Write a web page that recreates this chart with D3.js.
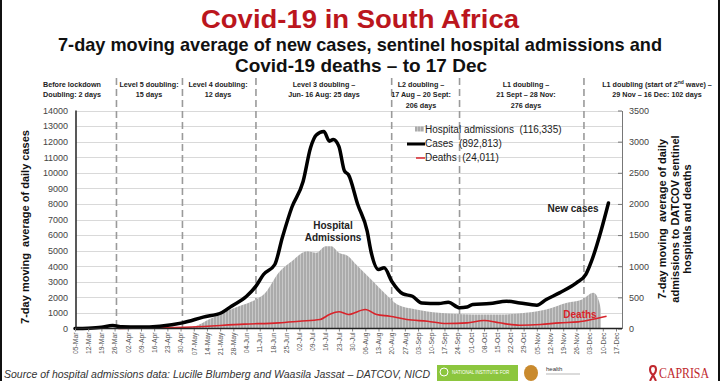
<!DOCTYPE html>
<html>
<head>
<meta charset="utf-8">
<script src="https://cdn.jsdelivr.net/npm/d3@7"></script>
<style>
  body { margin: 0; background: #fff; }
  svg { display: block; font-family: "Liberation Sans", Arial, sans-serif; }
</style>
</head>
<body>
<svg id="chart" width="720" height="381"></svg>
<script>
// weekly axis labels
var tickLabels = ["05-Mar","12-Mar","19-Mar","26-Mar","02-Apr","09-Apr","16-Apr","23-Apr","30-Apr",
  "07-May","14-May","21-May","28-May","04-Jun","11-Jun","18-Jun","25-Jun","02-Jul","09-Jul","16-Jul",
  "23-Jul","30-Jul","06-Aug","13-Aug","20-Aug","27-Aug","03-Sep","10-Sep","17-Sep","24-Sep","01-Oct",
  "08-Oct","15-Oct","22-Oct","29-Oct","05-Nov","12-Nov","19-Nov","26-Nov","03-Dec","10-Dec","17-Dec"];
var leftTicks = d3.range(0, 14001, 1000);
var rightTicks = [0, 500, 1000, 1500, 2000, 2500, 3000, 3500];

// 7-day average of new cases (left axis)
var caseDates = ["05-Mar","12-Mar","19-Mar","25-Mar","30-Mar","08-Apr","19-Apr","01-May","12-May","22-May",
  "27-May","04-Jun","09-Jun","13-Jun","19-Jun","23-Jun","28-Jun","04-Jul","08-Jul","11-Jul","15-Jul",
  "18-Jul","20-Jul","23-Jul","26-Jul","28-Jul","02-Aug","07-Aug","09-Aug","13-Aug","16-Aug","20-Aug",
  "26-Aug","31-Aug","05-Sep","14-Sep","19-Sep","25-Sep","29-Sep","02-Oct","11-Oct","20-Oct","27-Oct",
  "05-Nov","10-Nov","17-Nov","26-Nov","01-Dec","04-Dec","09-Dec","13-Dec"];
var caseValues = [0, 20, 80, 190, 110, 90, 150, 360, 730, 1030,
  1430, 2070, 2720, 3470, 4110, 5840, 7770, 9440, 11620, 12420, 12650,
  12030, 12140, 11700, 10100, 9890, 7960, 6250, 4960, 3790, 3900, 3040,
  2220, 2070, 1640, 1600, 1690, 1330, 1380, 1540, 1600, 1750, 1640,
  1500, 1860, 2290, 2930, 3470, 4320, 6250, 8060];

// hospital admissions (right axis)
var admDates = ["05-Apr","20-Apr","06-May","15-May","24-May","31-May","07-Jun","14-Jun","21-Jun","28-Jun",
  "06-Jul","11-Jul","16-Jul","19-Jul","23-Jul","28-Jul","01-Aug","09-Aug","17-Aug","23-Aug","02-Sep",
  "14-Sep","02-Oct","16-Oct","30-Oct","10-Nov","21-Nov","29-Nov","05-Dec","08-Dec","09-Dec"];
var admValues = [5, 10, 25, 144, 278, 358, 438, 573, 894, 1080,
  1240, 1215, 1320, 1320, 1215, 1160, 1030, 790, 546, 385, 305,
  252, 225, 225, 252, 305, 412, 465, 573, 438, 300];

// deaths (right axis)
var deathDates = ["28-Mar","15-Apr","06-May","03-Jun","21-Jun","02-Jul","13-Jul","18-Jul","23-Jul","28-Jul",
  "06-Aug","12-Aug","19-Aug","28-Aug","08-Sep","18-Sep","29-Sep","08-Oct","16-Oct","27-Oct","07-Nov",
  "17-Nov","27-Nov","04-Dec","12-Dec"];
var deathValues = [0, 8, 25, 70, 91, 117, 144, 225, 270, 225,
  305, 225, 198, 144, 117, 80, 91, 128, 91, 53, 64,
  91, 107, 144, 198];

// phase boundaries (dashed lines)
var phaseDates = ["27-Mar","01-May","09-Jun","20-Aug","25-Sep","30-Nov"];

var parse = d3.timeParse("%d-%b-%Y");
var toDate = s => parse(s + "-2020");

const svg = d3.select("#chart");
const x0 = 75, x1 = 616, plotLeft = 76, plotRight = 622, plotTop = 110.5, plotBottom = 328.5;

const x = d3.scaleTime().domain([toDate("05-Mar"), toDate("17-Dec")]).range([x0, x1]);
const yL = d3.scaleLinear().domain([0, 14000]).range([plotBottom, plotTop]);
const yR = d3.scaleLinear().domain([0, 3500]).range([plotBottom, plotTop]);

// hatch pattern for the admission bars
const defs = svg.append("defs");
const pat = defs.append("pattern").attr("id", "hatch").attr("patternUnits", "userSpaceOnUse")
  .attr("width", 3).attr("height", 10);
pat.append("rect").attr("width", 3).attr("height", 10).attr("fill", "#ababab");
pat.append("rect").attr("width", 0.8).attr("height", 10).attr("fill", "#cfcfcf");

// frame
svg.append("line").attr("x1", 1).attr("x2", 1).attr("y1", 0).attr("y2", 381).attr("stroke", "#111").attr("stroke-width", 2);
svg.append("line").attr("x1", 719).attr("x2", 719).attr("y1", 0).attr("y2", 381).attr("stroke", "#111").attr("stroke-width", 2);

// titles
svg.append("text").attr("x", 360).attr("y", 28).attr("text-anchor", "middle")
  .attr("font-size", 25).attr("font-weight", "bold").attr("fill", "#bb161d")
  .attr("textLength", 318).attr("lengthAdjust", "spacingAndGlyphs")
  .text("Covid-19 in South Africa");
svg.append("text").attr("x", 360).attr("y", 51).attr("text-anchor", "middle")
  .attr("font-size", 18.5).attr("font-weight", "bold").attr("fill", "#111")
  .attr("textLength", 604).attr("lengthAdjust", "spacingAndGlyphs")
  .text("7-day moving average of new cases, sentinel hospital admissions and");
svg.append("text").attr("x", 361).attr("y", 72).attr("text-anchor", "middle")
  .attr("font-size", 18.5).attr("font-weight", "bold").attr("fill", "#111")
  .attr("textLength", 252).attr("lengthAdjust", "spacingAndGlyphs")
  .text("Covid-19 deaths \u2013 to 17 Dec");

// grid
svg.append("g").selectAll("line").data(leftTicks.slice(1)).enter().append("line")
  .attr("x1", plotLeft).attr("x2", plotRight)
  .attr("y1", d => Math.round(yL(d)) + 0.5).attr("y2", d => Math.round(yL(d)) + 0.5)
  .attr("stroke", "#d9d9d9").attr("stroke-width", 1);

// phase dashed lines
svg.append("g").selectAll("line").data(phaseDates).enter().append("line")
  .attr("x1", d => x(toDate(d))).attr("x2", d => x(toDate(d)))
  .attr("y1", 78).attr("y2", plotBottom)
  .attr("stroke", "#9a9a9a").attr("stroke-width", 1.6).attr("stroke-dasharray", "7,4");

// phase labels
var phaseText = [
  {cx: 72, lines: ["Before lockdown", "Doubling: 2 days"]},
  {cx: 149, lines: ["Level 5 doubling:", "15 days"]},
  {cx: 218, lines: ["Level 4 doubling:", "12 days"]},
  {cx: 324, lines: ["Level 3 doubling \u2013", "Jun- 16 Aug: 25 days"]},
  {cx: 421, lines: ["L2 doubling \u2013", "17 Aug \u2013 20 Sept:", "206 days"]},
  {cx: 526, lines: ["L1 doubling \u2013", "21 Sept \u2013 28 Nov:", "276 days"]},
  {cx: 657, lines: ["L1 doubling (start of 2nd wave) \u2013", "29 Nov \u2013 16 Dec: 102 days"]}
];
const pg = svg.append("g").attr("font-size", 7.2).attr("font-weight", "bold").attr("fill", "#222")
  .attr("text-anchor", "middle");
phaseText.forEach(p => {
  p.lines.forEach((l, i) => {
    const t = pg.append("text").attr("x", p.cx).attr("y", 86.5 + i * 10.5);
    if (l.indexOf("2nd") >= 0) {
      const parts = l.split("2nd");
      t.append("tspan").text(parts[0] + "2");
      t.append("tspan").attr("font-size", 5).attr("dy", -2.5).text("nd");
      t.append("tspan").attr("dy", 2.5).text(parts[1]);
    } else {
      t.text(l);
    }
  });
});

// hospital admissions area
const area = d3.area()
  .x((d, i) => x(toDate(admDates[i])))
  .y0(plotBottom)
  .y1(d => yR(d))
  .curve(d3.curveMonotoneX);
svg.append("path").datum(admValues).attr("d", area).attr("fill", "url(#hatch)");

// deaths line
const deathLine = d3.line()
  .x((d, i) => x(toDate(deathDates[i])))
  .y(d => yR(d))
  .curve(d3.curveMonotoneX);
svg.append("path").datum(deathValues).attr("d", deathLine)
  .attr("fill", "none").attr("stroke", "#d8232a").attr("stroke-width", 1.6);

// cases line
const caseLine = d3.line()
  .x((d, i) => x(toDate(caseDates[i])))
  .y(d => yL(d))
  .curve(d3.curveMonotoneX);
svg.append("path").datum(caseValues).attr("d", caseLine)
  .attr("fill", "none").attr("stroke", "#000").attr("stroke-width", 3.5)
  .attr("stroke-linejoin", "round").attr("stroke-linecap", "round");

// axes
const gl = svg.append("g").attr("transform", `translate(${plotLeft},0)`)
  .call(d3.axisLeft(yL).tickValues(leftTicks).tickSize(0).tickPadding(8).tickFormat(d3.format("d")));
gl.select(".domain").remove();
gl.selectAll("text").attr("font-size", 9).attr("fill", "#444").attr("font-family", "Liberation Sans, Arial, sans-serif");
svg.append("line").attr("x1", plotLeft).attr("x2", plotLeft).attr("y1", plotTop).attr("y2", plotBottom)
  .attr("stroke", "#222").attr("stroke-width", 1.5);

const gr = svg.append("g").attr("transform", `translate(${plotRight},0)`)
  .call(d3.axisRight(yR).tickValues(rightTicks).tickSizeInner(-4).tickSizeOuter(0).tickPadding(7)
    .tickFormat(d3.format("d")));
gr.select(".domain").attr("stroke", "#777");
gr.selectAll(".tick line").attr("stroke", "#777");
gr.selectAll("text").attr("font-size", 9).attr("fill", "#444").attr("font-family", "Liberation Sans, Arial, sans-serif");

const gx = svg.append("g").attr("transform", `translate(0,${plotBottom})`)
  .call(d3.axisBottom(x).tickValues(tickLabels.map(toDate)).tickSize(3).tickFormat(d3.timeFormat("%d-%b")));
gx.select(".domain").remove();
gx.selectAll(".tick line").attr("stroke", "#888");
gx.selectAll("text").attr("font-size", 6.8).attr("fill", "#555").attr("font-family", "Liberation Sans, Arial, sans-serif")
  .attr("text-anchor", "end").attr("transform", "rotate(-90)").attr("x", -4).attr("y", 0).attr("dy", "0.33em");
svg.append("line").attr("x1", plotLeft).attr("x2", plotRight).attr("y1", plotBottom).attr("y2", plotBottom)
  .attr("stroke", "#222").attr("stroke-width", 1.5);

// axis titles
svg.append("text").attr("transform", "translate(29,227) rotate(-90)").attr("text-anchor", "middle")
  .attr("font-size", 11).attr("font-weight", "bold").attr("fill", "#111")
  .attr("xml:space", "preserve").text("7-day moving  average of daily cases");
["7-day moving  average of daily", "admissions to DATCOV sentinel", "hospitals and deaths"].forEach((l, i) => {
  svg.append("text").attr("transform", `translate(${666 + i * 12.5},219) rotate(-90)`).attr("text-anchor", "middle")
    .attr("font-size", 11).attr("font-weight", "bold").attr("fill", "#111")
    .attr("xml:space", "preserve").text(l);
});

// legend
const lg = svg.append("g").attr("font-size", 10).attr("fill", "#222");
lg.append("rect").attr("x", 415).attr("y", 126.5).attr("width", 9).attr("height", 5).attr("fill", "url(#hatch)");
lg.append("text").attr("x", 425).attr("y", 133).attr("xml:space", "preserve").text("Hospital admissions  (116,335)");
lg.append("line").attr("x1", 407).attr("x2", 425).attr("y1", 144).attr("y2", 144).attr("stroke", "#000").attr("stroke-width", 3);
lg.append("text").attr("x", 425).attr("y", 147).attr("xml:space", "preserve").text("Cases  (892,813)");
lg.append("line").attr("x1", 416).attr("x2", 425).attr("y1", 158).attr("y2", 158).attr("stroke", "#d8232a").attr("stroke-width", 1.5);
lg.append("text").attr("x", 425).attr("y", 161).attr("xml:space", "preserve").text("Deaths  (24,011)");

// annotations
const an = svg.append("g").attr("font-size", 10).attr("font-weight", "bold").attr("text-anchor", "middle");
an.append("text").attr("x", 333).attr("y", 229).attr("fill", "#222").text("Hospital");
an.append("text").attr("x", 333).attr("y", 241).attr("fill", "#222").text("Admissions");
an.append("text").attr("x", 573).attr("y", 212).attr("fill", "#222").text("New cases");
an.append("text").attr("x", 580).attr("y", 318).attr("fill", "#d8232a").text("Deaths");

// footer
svg.append("text").attr("x", 4).attr("y", 378).attr("font-size", 11).attr("font-style", "italic").attr("fill", "#333")
  .attr("textLength", 426).attr("lengthAdjust", "spacingAndGlyphs")
  .text("Source of hospital admissions data: Lucille Blumberg and Waasila Jassat \u2013 DATCOV, NICD");
svg.append("rect").attr("x", 437).attr("y", 365).attr("width", 81).attr("height", 16).attr("fill", "#8cc63e");
svg.append("text").attr("x", 452).attr("y", 374).attr("font-size", 4.5).attr("fill", "#fff").text("NATIONAL INSTITUTE FOR");
svg.append("circle").attr("cx", 444).attr("cy", 372).attr("r", 4).attr("fill", "none").attr("stroke", "#fff").attr("stroke-width", 1);
svg.append("ellipse").attr("cx", 531).attr("cy", 373).attr("rx", 7).attr("ry", 8).attr("fill", "#c98a2e");
svg.append("text").attr("x", 546).attr("y", 371).attr("font-size", 6).attr("fill", "#333").text("health");
svg.append("line").attr("x1", 546).attr("x2", 580).attr("y1", 374).attr("y2", 374).attr("stroke", "#999").attr("stroke-width", 0.7);
svg.append("path").attr("d", "M653,366 c-4,0 -4,6 0,9 l-3,6 M653,366 c4,0 4,6 0,9 l3,6")
  .attr("fill", "none").attr("stroke", "#c0272d").attr("stroke-width", 2);
svg.append("text").attr("x", 659).attr("y", 378).attr("font-size", 14).attr("fill", "#c0272d")
  .attr("font-family", "Liberation Serif, serif").attr("textLength", 50).attr("lengthAdjust", "spacingAndGlyphs").text("CAPRISA");
</script>
</body>
</html>
